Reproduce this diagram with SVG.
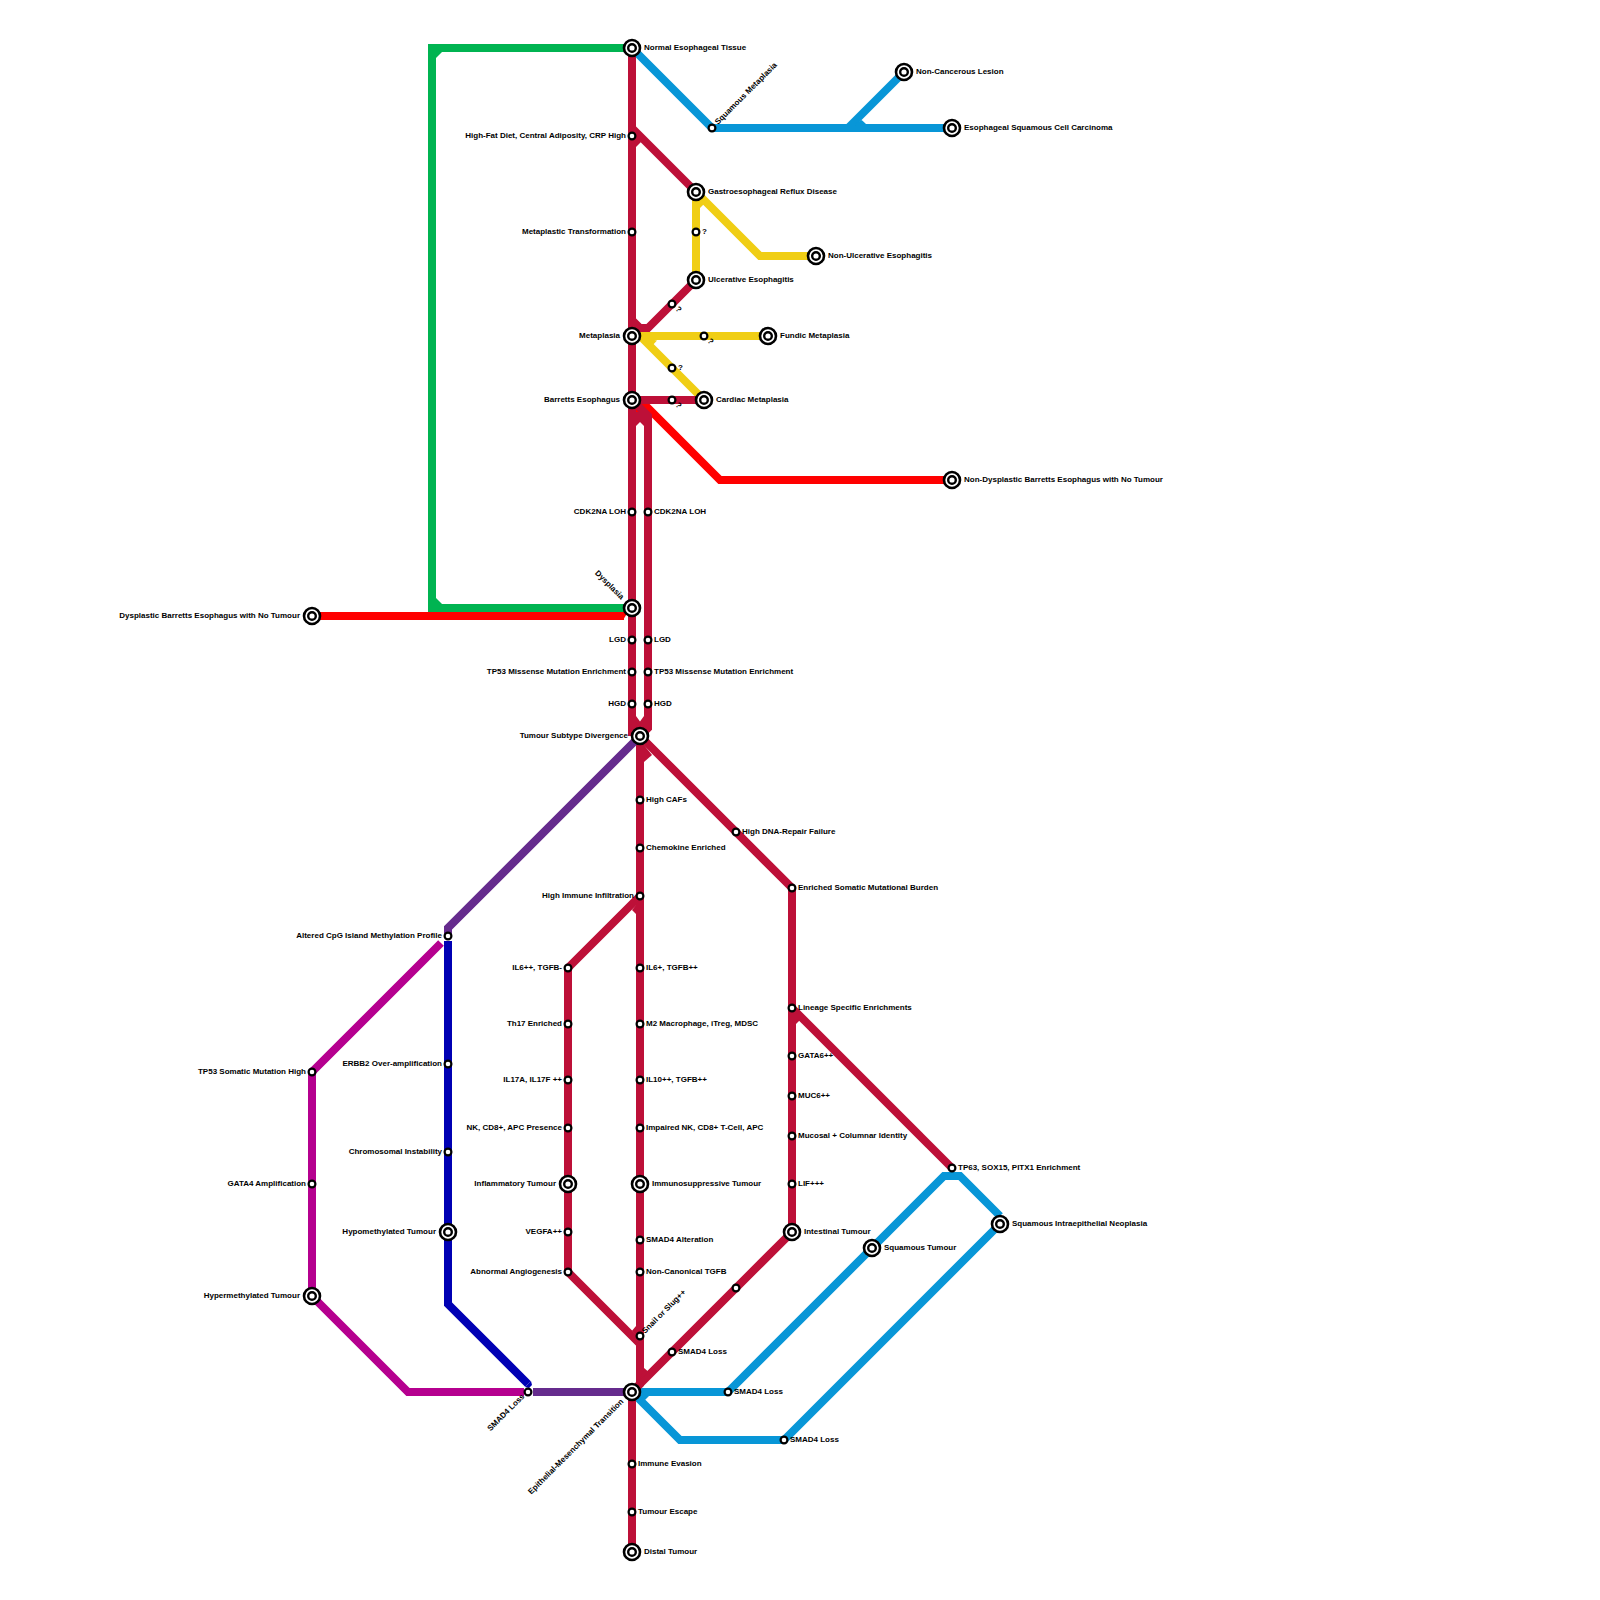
<svg xmlns="http://www.w3.org/2000/svg" width="1600" height="1600" viewBox="0 0 1600 1600">
<style>
.l{fill:none;stroke-width:8;stroke-linejoin:miter;stroke-miterlimit:10}
.cr{stroke:#bd1038}.bl{stroke:#0896d7}.ye{stroke:#f0ce15}.re{stroke:#ff0000}.gr{stroke:#00b451}.pu{stroke:#652b8d}.ma{stroke:#b5008f}.na{stroke:#0000b4}
.fcr{fill:#bd1038}.fbl{fill:#0896d7}.fye{fill:#f0ce15}.fre{fill:#ff0000}.fgr{fill:#00b451}.fma{fill:#b5008f}.fna{fill:#0000b4}
.o{fill:#fff;stroke:#000;stroke-width:2.6}
.i{fill:#fff;stroke:#000;stroke-width:2.4}
.s{fill:#fff;stroke:#000;stroke-width:2.2}
text{font-family:"Liberation Sans",Arial,sans-serif;font-size:8px;font-weight:700;fill:#000}
.e{text-anchor:end}
</style>
<rect width="1600" height="1600" fill="#fff"/>
<g id="connectors">
<path class="l gr" d="M632 48H432V608H632"/>
<polygon class="fgr" points="436,48 442,52 436,58"/>
<polygon class="fgr" points="436,612 442,604 436,598"/>
<path class="l re" d="M312 616H624"/>
<polygon class="fre" points="624,612 628,612 623,620 624,620"/>
<path class="l re" d="M632 408H648L720 480H952"/>
<path class="l bl" d="M632 48L712 128H952"/>
<path class="l bl" d="M848 128L904 72"/>
<polygon class="fbl" points="861.700,120 866,124 855,124"/>
<path class="l bl" d="M632 1392H728L944 1176H960L1000 1216"/>
<path class="l bl" d="M632 1392L680 1440H784L1000 1224"/>
<polygon class="fbl" points="641,1396 649,1396 645,1400 643,1399"/>
<path class="l ye" d="M696 192V280"/>
<path class="l ye" d="M696 192L760 256H816"/>
<polygon class="fye" points="700,196 700,208 706,202"/>
<path class="l ye" d="M632 336H768"/>
<path class="l ye" d="M640 336L704 400"/>
<polygon class="fye" points="644,338 657,340.500 650,348"/>
<path class="l cr" d="M632 48V736"/>
<path class="l cr" d="M632 128L696 192"/>
<polygon class="fcr" points="636,147 641,142 636,132"/>
<path class="l cr" d="M632 320L640 328H648L696 280"/>
<path class="l cr" d="M632 400H704"/>
<path class="l cr" d="M632 400L648 416V728L640 736"/>
<polygon class="fcr" points="636,426 640,422 644,426 644,412 636,412"/>
<polygon class="fcr" points="636,716 640,721.500 644,716 644,740 636,740"/>
<path class="l cr" d="M632 724L640 732"/>
<path class="l cr" d="M640 736V1384L632 1392"/>
<path class="l cr" d="M640 736L792 888V1232L632 1392V1552"/>
<polygon class="fcr" points="644,762 652,755 644,745"/>
<path class="l cr" d="M792 1008L952 1168"/>
<polygon class="fcr" points="796,1024 803,1017 796,1010"/>
<path class="l cr" d="M640 896L568 968V1272L640 1344"/>
<polygon class="fcr" points="636,914 632,910 636,905"/>
<polygon class="fcr" points="632,1330.700 636,1326 636,1335"/>
<polygon class="fcr" points="644,1368 648.500,1371.700 640,1380"/>
<path class="l pu" d="M632 1392H533"/>
<path class="l pu" d="M640 736L448 928V934"/>
<path class="l ma" d="M441 943L312 1072V1296L408 1392H524"/>
<path class="l na" d="M448 941V1304L528 1384"/>
<polygon class="fna" points="525,1387 531,1381 532,1385 529,1388"/>
</g>
<g id="n1"><circle class="o" cx="632" cy="48" r="8"/><circle class="i" cx="632" cy="48" r="3.800"/><text x="644" y="49.500">Normal Esophageal Tissue</text></g>
<g id="n2"><circle class="s" cx="712" cy="128" r="3.400"/><text transform="translate(718 125) rotate(-45)">Squamous Metaplasia</text></g>
<g id="n3"><circle class="o" cx="904" cy="72" r="8"/><circle class="i" cx="904" cy="72" r="3.800"/><text x="916" y="73.500">Non-Cancerous Lesion</text></g>
<g id="n4"><circle class="o" cx="952" cy="128" r="8"/><circle class="i" cx="952" cy="128" r="3.800"/><text x="964" y="129.500">Esophageal Squamous Cell Carcinoma</text></g>
<g id="n5"><circle class="s" cx="632" cy="136" r="3.400"/><text class="e" x="626" y="137.500">High-Fat Diet, Central Adiposity, CRP High</text></g>
<g id="n6"><circle class="s" cx="632" cy="232" r="3.400"/><text class="e" x="626" y="233.500">Metaplastic Transformation</text></g>
<g id="n7"><circle class="o" cx="696" cy="192" r="8"/><circle class="i" cx="696" cy="192" r="3.800"/><text x="708" y="193.500">Gastroesophageal Reflux Disease</text></g>
<g id="n8"><circle class="s" cx="696" cy="232" r="3.400"/><text x="702" y="233.500">?</text></g>
<g id="n9"><circle class="o" cx="696" cy="280" r="8"/><circle class="i" cx="696" cy="280" r="3.800"/><text x="708" y="281.500">Ulcerative Esophagitis</text></g>
<g id="n10"><circle class="o" cx="816" cy="256" r="8"/><circle class="i" cx="816" cy="256" r="3.800"/><text x="828" y="257.500">Non-Ulcerative Esophagitis</text></g>
<g id="n11"><circle class="s" cx="672" cy="304" r="3.400"/><text transform="translate(675 309.500) rotate(45)">?</text></g>
<g id="n12"><circle class="o" cx="632" cy="336" r="8"/><circle class="i" cx="632" cy="336" r="3.800"/><text class="e" x="620" y="337.500">Metaplasia</text></g>
<g id="n13"><circle class="s" cx="704" cy="336" r="3.400"/><text transform="translate(707 341.500) rotate(45)">?</text></g>
<g id="n14"><circle class="o" cx="768" cy="336" r="8"/><circle class="i" cx="768" cy="336" r="3.800"/><text x="780" y="337.500">Fundic Metaplasia</text></g>
<g id="n15"><circle class="s" cx="672" cy="368" r="3.400"/><text x="678" y="369.500">?</text></g>
<g id="n16"><circle class="o" cx="632" cy="400" r="8"/><circle class="i" cx="632" cy="400" r="3.800"/><text class="e" x="620" y="401.500">Barretts Esophagus</text></g>
<g id="n17"><circle class="s" cx="672" cy="400" r="3.400"/><text transform="translate(675 405.500) rotate(45)">?</text></g>
<g id="n18"><circle class="o" cx="704" cy="400" r="8"/><circle class="i" cx="704" cy="400" r="3.800"/><text x="716" y="401.500">Cardiac Metaplasia</text></g>
<g id="n19"><circle class="o" cx="952" cy="480" r="8"/><circle class="i" cx="952" cy="480" r="3.800"/><text x="964" y="481.500">Non-Dysplastic Barretts Esophagus with No Tumour</text></g>
<g id="n20"><circle class="s" cx="632" cy="512" r="3.400"/><text class="e" x="626" y="513.500">CDK2NA LOH</text></g>
<g id="n21"><circle class="s" cx="648" cy="512" r="3.400"/><text x="654" y="513.500">CDK2NA LOH</text></g>
<g id="n22"><circle class="o" cx="632" cy="608" r="8"/><circle class="i" cx="632" cy="608" r="3.800"/><text class="e" transform="translate(621 600) rotate(45)">Dysplasia</text></g>
<g id="n23"><circle class="o" cx="312" cy="616" r="8"/><circle class="i" cx="312" cy="616" r="3.800"/><text class="e" x="300" y="617.500">Dysplastic Barretts Esophagus with No Tumour</text></g>
<g id="n24"><circle class="s" cx="632" cy="640" r="3.400"/><text class="e" x="626" y="641.500">LGD</text></g>
<g id="n25"><circle class="s" cx="648" cy="640" r="3.400"/><text x="654" y="641.500">LGD</text></g>
<g id="n26"><circle class="s" cx="632" cy="672" r="3.400"/><text class="e" x="626" y="673.500">TP53 Missense Mutation Enrichment</text></g>
<g id="n27"><circle class="s" cx="648" cy="672" r="3.400"/><text x="654" y="673.500">TP53 Missense Mutation Enrichment</text></g>
<g id="n28"><circle class="s" cx="632" cy="704" r="3.400"/><text class="e" x="626" y="705.500">HGD</text></g>
<g id="n29"><circle class="s" cx="648" cy="704" r="3.400"/><text x="654" y="705.500">HGD</text></g>
<g id="n30"><circle class="o" cx="640" cy="736" r="8"/><circle class="i" cx="640" cy="736" r="3.800"/><text class="e" x="628" y="737.500">Tumour Subtype Divergence</text></g>
<g id="n31"><circle class="s" cx="640" cy="800" r="3.400"/><text x="646" y="801.500">High CAFs</text></g>
<g id="n32"><circle class="s" cx="640" cy="848" r="3.400"/><text x="646" y="849.500">Chemokine Enriched</text></g>
<g id="n33"><circle class="s" cx="640" cy="896" r="3.400"/><text class="e" x="634" y="897.500">High Immune Infiltration</text></g>
<g id="n34"><circle class="s" cx="736" cy="832" r="3.400"/><text x="742" y="833.500">High DNA-Repair Failure</text></g>
<g id="n35"><circle class="s" cx="792" cy="888" r="3.400"/><text x="798" y="889.500">Enriched Somatic Mutational Burden</text></g>
<g id="n36"><circle class="s" cx="448" cy="936" r="3.400"/><text class="e" x="442" y="937.500">Altered CpG Island Methylation Profile</text></g>
<g id="n37"><circle class="s" cx="568" cy="968" r="3.400"/><text class="e" x="562" y="969.500">IL6++, TGFB-</text></g>
<g id="n38"><circle class="s" cx="640" cy="968" r="3.400"/><text x="646" y="969.500">IL6+, TGFB++</text></g>
<g id="n39"><circle class="s" cx="568" cy="1024" r="3.400"/><text class="e" x="562" y="1025.500">Th17 Enriched</text></g>
<g id="n40"><circle class="s" cx="640" cy="1024" r="3.400"/><text x="646" y="1025.500">M2 Macrophage, iTreg, MDSC</text></g>
<g id="n41"><circle class="s" cx="792" cy="1008" r="3.400"/><text x="798" y="1009.500">Lineage Specific Enrichments</text></g>
<g id="n42"><circle class="s" cx="792" cy="1056" r="3.400"/><text x="798" y="1057.500">GATA6++</text></g>
<g id="n43"><circle class="s" cx="448" cy="1064" r="3.400"/><text class="e" x="442" y="1065.500">ERBB2 Over-amplification</text></g>
<g id="n44"><circle class="s" cx="312" cy="1072" r="3.400"/><text class="e" x="306" y="1073.500">TP53 Somatic Mutation High</text></g>
<g id="n45"><circle class="s" cx="568" cy="1080" r="3.400"/><text class="e" x="562" y="1081.500">IL17A, IL17F ++</text></g>
<g id="n46"><circle class="s" cx="640" cy="1080" r="3.400"/><text x="646" y="1081.500">IL10++, TGFB++</text></g>
<g id="n47"><circle class="s" cx="792" cy="1096" r="3.400"/><text x="798" y="1097.500">MUC6++</text></g>
<g id="n48"><circle class="s" cx="568" cy="1128" r="3.400"/><text class="e" x="562" y="1129.500">NK, CD8+, APC Presence</text></g>
<g id="n49"><circle class="s" cx="640" cy="1128" r="3.400"/><text x="646" y="1129.500">Impaired NK, CD8+ T-Cell, APC</text></g>
<g id="n50"><circle class="s" cx="792" cy="1136" r="3.400"/><text x="798" y="1137.500">Mucosal + Columnar Identity</text></g>
<g id="n51"><circle class="s" cx="448" cy="1152" r="3.400"/><text class="e" x="442" y="1153.500">Chromosomal Instability</text></g>
<g id="n52"><circle class="s" cx="952" cy="1168" r="3.400"/><text x="958" y="1169.500">TP63, SOX15, PITX1 Enrichment</text></g>
<g id="n53"><circle class="s" cx="312" cy="1184" r="3.400"/><text class="e" x="306" y="1185.500">GATA4 Amplification</text></g>
<g id="n54"><circle class="o" cx="568" cy="1184" r="8"/><circle class="i" cx="568" cy="1184" r="3.800"/><text class="e" x="556" y="1185.500">Inflammatory Tumour</text></g>
<g id="n55"><circle class="o" cx="640" cy="1184" r="8"/><circle class="i" cx="640" cy="1184" r="3.800"/><text x="652" y="1185.500">Immunosuppressive Tumour</text></g>
<g id="n56"><circle class="s" cx="792" cy="1184" r="3.400"/><text x="798" y="1185.500">LIF+++</text></g>
<g id="n57"><circle class="o" cx="1000" cy="1224" r="8"/><circle class="i" cx="1000" cy="1224" r="3.800"/><text x="1012" y="1225.500">Squamous Intraepithelial Neoplasia</text></g>
<g id="n58"><circle class="o" cx="448" cy="1232" r="8"/><circle class="i" cx="448" cy="1232" r="3.800"/><text class="e" x="436" y="1233.500">Hypomethylated Tumour</text></g>
<g id="n59"><circle class="s" cx="568" cy="1232" r="3.400"/><text class="e" x="562" y="1233.500">VEGFA++</text></g>
<g id="n60"><circle class="o" cx="792" cy="1232" r="8"/><circle class="i" cx="792" cy="1232" r="3.800"/><text x="804" y="1233.500">Intestinal Tumour</text></g>
<g id="n61"><circle class="s" cx="640" cy="1240" r="3.400"/><text x="646" y="1241.500">SMAD4 Alteration</text></g>
<g id="n62"><circle class="o" cx="872" cy="1248" r="8"/><circle class="i" cx="872" cy="1248" r="3.800"/><text x="884" y="1249.500">Squamous Tumour</text></g>
<g id="n63"><circle class="s" cx="568" cy="1272" r="3.400"/><text class="e" x="562" y="1273.500">Abnormal Angiogenesis</text></g>
<g id="n64"><circle class="s" cx="640" cy="1272" r="3.400"/><text x="646" y="1273.500">Non-Canonical TGFB</text></g>
<g id="n65"><circle class="s" cx="736" cy="1288" r="3.400"/></g>
<g id="n66"><circle class="o" cx="312" cy="1296" r="8"/><circle class="i" cx="312" cy="1296" r="3.800"/><text class="e" x="300" y="1297.500">Hypermethylated Tumour</text></g>
<g id="n67"><circle class="s" cx="640" cy="1336" r="3.400"/><text transform="translate(645 1334) rotate(-45)">Snail or Slug++</text></g>
<g id="n68"><circle class="s" cx="672" cy="1352" r="3.400"/><text x="678" y="1353.500">SMAD4 Loss</text></g>
<g id="n69"><circle class="o" cx="632" cy="1392" r="8"/><circle class="i" cx="632" cy="1392" r="3.800"/><text class="e" transform="translate(624 1402) rotate(-45)">Epithelial-Mesenchymal Transition</text></g>
<g id="n70"><circle class="s" cx="528" cy="1392" r="3.400"/><text class="e" transform="translate(525 1397) rotate(-45)">SMAD4 Loss</text></g>
<g id="n71"><circle class="s" cx="728" cy="1392" r="3.400"/><text x="734" y="1393.500">SMAD4 Loss</text></g>
<g id="n72"><circle class="s" cx="784" cy="1440" r="3.400"/><text x="790" y="1441.500">SMAD4 Loss</text></g>
<g id="n73"><circle class="s" cx="632" cy="1464" r="3.400"/><text x="638" y="1465.500">Immune Evasion</text></g>
<g id="n74"><circle class="s" cx="632" cy="1512" r="3.400"/><text x="638" y="1513.500">Tumour Escape</text></g>
<g id="n75"><circle class="o" cx="632" cy="1552" r="8"/><circle class="i" cx="632" cy="1552" r="3.800"/><text x="644" y="1553.500">Distal Tumour</text></g>
</svg>
